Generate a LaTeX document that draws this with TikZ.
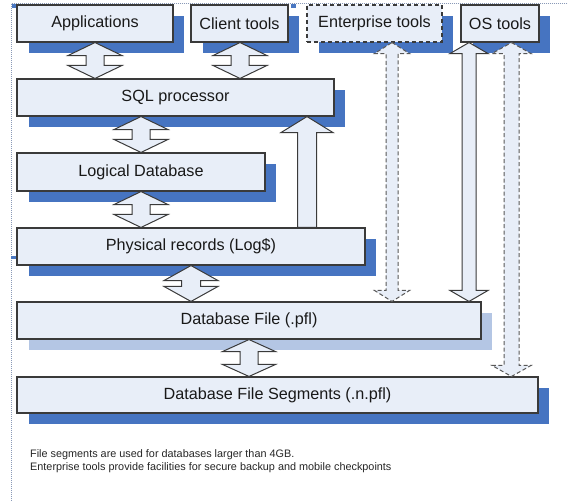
\documentclass[tikz,border=0pt]{standalone}
\usepackage{fontspec}
\setmainfont{Liberation Sans}
\usetikzlibrary{calc}
\definecolor{boxfill}{HTML}{E8EEF8}
\definecolor{shadowblue}{HTML}{4674C1}
\definecolor{lightshadow}{HTML}{B4C6E4}
\definecolor{edge}{HTML}{3A3A3A}
\definecolor{frame}{HTML}{8A9AB8}
\definecolor{handle}{HTML}{4A78C2}
\tikzset{
  box/.style={draw=edge, line width=1.1pt, fill=boxfill, inner sep=0pt,
    text=black!90, font=\fontsize{16.2}{19}\selectfont},
  dashbox/.style={box, dash pattern=on 4pt off 3pt},
  barrow/.style={draw=edge, line width=1pt, fill=boxfill, line join=miter},
  dbarrow/.style={barrow, draw=edge!85, dash pattern=on 4pt off 2.5pt},
  notetext/.style={inner sep=0pt, anchor=base west, text=black!85,
    font=\fontsize{10.85}{13}\selectfont},
}
% name, x1, y1, x2, y2, style, shadow colour, text
\newcommand\mkbox[8]{%
  \fill[fill=#7] ({#2+12},{#3+11}) rectangle ({#4+11},{#5+11});
  \node[#6, minimum width={(#4-#2)*1pt}, minimum height={(#5-#3)*1pt}]
    (#1) at ({(#2+#4)/2},{(#3+#5)/2}) {#8};}
% style, x, top node, bottom node, head half width, shaft half width, head height
\newcommand\dblarrow[7]{%
  \path[#1] let \p1=(#2,0 |- #3.south), \p2=(#2,0 |- #4.north) in
    (\x1,\y1) -- ({\x1+#5pt},{\y1-#7pt}) -- ({\x1+#6pt},{\y1-#7pt})
    -- ({\x1+#6pt},{\y2+#7pt}) -- ({\x1+#5pt},{\y2+#7pt}) -- (\x1,\y2)
    -- ({\x1-#5pt},{\y2+#7pt}) -- ({\x1-#6pt},{\y2+#7pt})
    -- ({\x1-#6pt},{\y1-#7pt}) -- ({\x1-#5pt},{\y1-#7pt}) -- cycle;}
\begin{document}
\begin{tikzpicture}[x=1pt,y=-1pt]
\useasboundingbox (0,0) rectangle (568,501);
\fill[white] (0,0) rectangle (568,501);
% frame
\draw[frame, line width=0.6pt, dash pattern=on 1pt off 1pt] (11,501) -- (11,3.5) -- (568,3.5);
\fill[handle] (12,4) rectangle (16,8);
\fill[handle] (291,4) rectangle (296,8);
\fill[handle] (11,256) rectangle (17,258.5);
% boxes
\mkbox{app}{17}{5}{173}{42}{box}{shadowblue}{Applications}
\mkbox{client}{191}{5}{288}{42}{box}{shadowblue}{Client tools}
\mkbox{ent}{307}{5}{442}{42}{dashbox}{shadowblue}{Enterprise tools}
\mkbox{os}{461}{5}{539}{42}{box}{shadowblue}{OS tools}
\mkbox{sql}{17}{79}{334}{116}{box}{shadowblue}{SQL processor}
\mkbox{logic}{17}{153}{265}{191}{box}{shadowblue}{Logical Database}
\mkbox{phys}{17}{228}{365}{265}{box}{shadowblue}{Physical records (Log\$)}
\mkbox{dbfile}{17}{302}{481}{339}{box}{lightshadow}{Database File (.pfl)}
\mkbox{segs}{17}{377}{538}{413}{box}{shadowblue}{Database File Segments (.n.pfl)}
% block arrows
\dblarrow{barrow}{95}{app}{sql}{27}{9}{13}
\dblarrow{barrow}{240}{client}{sql}{27}{9}{13}
\dblarrow{barrow}{141}{sql}{logic}{27}{9}{13}
\dblarrow{barrow}{141}{logic}{phys}{27}{9}{13}
\dblarrow{barrow}{191}{phys}{dbfile}{27}{9.5}{15}
\dblarrow{barrow}{249}{dbfile}{segs}{26.5}{9}{12}
\dblarrow{dbarrow}{392}{ent}{dbfile}{17.5}{6}{11}
\dblarrow{barrow}{469}{os}{dbfile}{19}{7}{11}
\dblarrow{dbarrow}{511.5}{os}{segs}{19.5}{7.5}{11}
% single up arrow physical -> sql
\path[barrow] let \p1=(307,0 |- sql.south), \p2=(307,0 |- phys.north) in
  (\x1,\y1) -- ({\x1+26pt},{\y1-16pt}) -- ({\x1+9.5pt},{\y1-16pt})
  -- ({\x1+9.5pt},\y2) -- ({\x1-9.5pt},\y2) -- ({\x1-9.5pt},{\y1-16pt})
  -- ({\x1-26pt},{\y1-16pt}) -- cycle;
% notes
\node[notetext] (note1) at (30,457) {File segments are used for databases larger than 4GB.};
\node[notetext] (note2) at (30,470) {Enterprise tools provide facilities for secure backup and mobile checkpoints};
\end{tikzpicture}
\end{document}
